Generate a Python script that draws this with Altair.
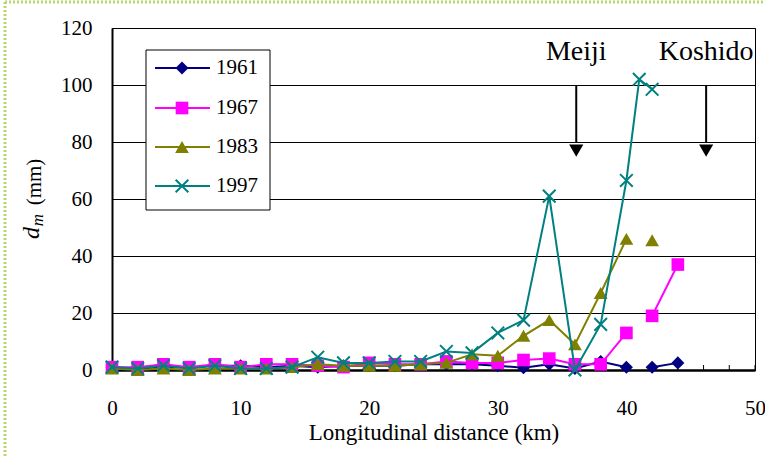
import altair as alt
import pandas as pd

# ---------------- data ----------------
x_km = [0, 2, 4, 6, 8, 10, 12, 14, 16, 18, 20, 22, 24, 26, 28, 30, 32, 34, 36, 38, 40, 41, 42, 44]
d1961 = [1, 0.5, 1, 1, 1.5, 1.5, 1, 1.5, 1, 1.5, 1.5, 1.5, 2, 2, 2, 1.5, 0.8, 2, 0.5, 3, 1, None, 1, 2.5]
d1967 = [1, 1, 2, 1, 2, 1, 2, 2, 1.5, 1, 2.5, 2, 2, 3, 2.5, 2.5, 3.5, 4, 2, 2, 13, None, 19, 37]
d1983 = [0.5, 0, 0.5, 0, 0.5, 0.5, 0.5, 1, 2, 1.5, 1.5, 1.5, 2, 2.5, 5.5, 5, 12, 17.5, 9, 27, 46, None, 45.5, None]
d1997 = [1, 0.5, 1.5, 0.5, 1.5, 0.5, 0.5, 1, 4.5, 2.5, 2.5, 3, 3, 6.5, 6, 13, 17.5, 61, 0, 16, 66.5, 102, 98.5, None]

years = ["1961", "1967", "1983", "1997"]
series = [d1961, d1967, d1983, d1997]
colors = ["#000080", "#FF00FF", "#808000", "#008080"]
X_PATH = "M-1,-1L1,1M-1,1L1,-1"
shapes = ["diamond", "square", "triangle-up", X_PATH]
filled = [True, True, True, False]
sizes = [170, 160, 190, 160]

x_ticks = [0, 10, 20, 30, 40, 50]
y_ticks = [0, 20, 40, 60, 80, 100, 120]
minor_ticks = list(range(0, 51, 2))

site_names = ["Meiji", "Koshido"]
site_km = [36.1, 46.2]

W, H = 643, 342
FONT = "Liberation Serif"

# ---------------- scales / axes ----------------
xs = alt.Scale(domain=[0, 50], nice=False, zero=False)
ys = alt.Scale(domain=[0, 120], nice=False)
x_axis = alt.Axis(values=x_ticks, ticks=False, grid=False, domainColor="black", domainWidth=2.5,
                  labelFont=FONT, labelFontSize=21, labelColor="black", labelPadding=27,
                  labelFlush=False, labelOverlap=False,
                  title="Longitudinal distance (km)", titleFont=FONT, titleFontSize=23,
                  titleFontWeight="normal", titleColor="black", titlePadding=3)
y_axis = alt.Axis(values=y_ticks, ticks=False, grid=True, gridColor="black", gridWidth=1,
                  domainColor="black", domainWidth=2, labelFont=FONT, labelFontSize=21,
                  labelFlush=False, labelOverlap=False,
                  labelColor="black", labelPadding=20, title=None)
X = alt.X("x:Q", scale=xs, axis=x_axis)
Y = alt.Y("y:Q", scale=ys, axis=y_axis)

layers = []

# minor ticks on the x axis (pointing inward)
tick_df = pd.DataFrame({"x": minor_ticks})
layers.append(alt.Chart(tick_df).mark_rule(color="black", strokeWidth=1).encode(
    x=X, y=alt.value(H), y2=alt.value(H - 5)))

# series
for yr, vals, col, shp, fl, sz in zip(years, series, colors, shapes, filled, sizes):
    rows = []
    seg = 0
    for xv, yv in zip(x_km, vals):
        if yv is None:
            seg += 1
            continue
        rows.append({"x": xv, "y": yv, "seg": seg})
    df = pd.DataFrame(rows)
    base = alt.Chart(df)
    layers.append(base.mark_line(color=col, strokeWidth=2).encode(x=X, y=Y, detail="seg:N"))
    if fl:
        pts = base.mark_point(shape=shp, filled=True, color=col, size=sz, opacity=1)
    else:
        pts = base.mark_point(shape=shp, filled=False, color=col, size=sz, opacity=1, strokeWidth=2)
    layers.append(pts.encode(x=X, y=Y))

# arrows and site labels
site_df = pd.DataFrame({"x": site_km, "name": site_names, "y": [100] * 2, "y2": [80] * 2,
                        "yt": [77] * 2, "yl": [111.5] * 2})
layers.append(alt.Chart(site_df).mark_rule(color="black", strokeWidth=2).encode(
    x=X, y=Y, y2="y2:Q"))
layers.append(alt.Chart(site_df).mark_point(shape="triangle-down", filled=True, color="black",
                                            size=200, opacity=1).encode(
    x=X, y=alt.Y("yt:Q", scale=ys, axis=y_axis)))
layers.append(alt.Chart(site_df).mark_text(font=FONT, fontSize=28, color="black").encode(
    x=X, y=alt.Y("yl:Q", scale=ys, axis=y_axis), text="name:N"))

# legend (manual, drawn inside the plot)
one = pd.DataFrame({"k": [0]})
layers.append(alt.Chart(one).mark_rect(fill="white", stroke="black", strokeWidth=1).encode(
    x=alt.value(34), x2=alt.value(158), y=alt.value(22), y2=alt.value(182)))
leg_y = [40, 80, 119, 158]
for yr, col, shp, fl, sz, ly in zip(years, colors, shapes, filled, sizes, leg_y):
    layers.append(alt.Chart(one).mark_rule(color=col, strokeWidth=2).encode(
        x=alt.value(43), x2=alt.value(98), y=alt.value(ly)))
    if fl:
        p = alt.Chart(one).mark_point(shape=shp, filled=True, color=col, size=sz, opacity=1)
    else:
        p = alt.Chart(one).mark_point(shape=shp, filled=False, color=col, size=sz, opacity=1, strokeWidth=2)
    layers.append(p.encode(x=alt.value(70), y=alt.value(ly)))
    layers.append(alt.Chart(one).mark_text(text=yr, font=FONT, fontSize=21, color="black",
                                           align="left", baseline="middle").encode(
        x=alt.value(104), y=alt.value(ly)))

# y-axis title: italic d with subscript m, then (mm)
layers.append(alt.Chart(one).mark_text(text="d", font=FONT, fontSize=24, fontStyle="italic",
                                       color="black", angle=270, align="center",
                                       baseline="alphabetic").encode(
    x=alt.value(-73), y=alt.value(205)))
layers.append(alt.Chart(one).mark_text(text="m", font=FONT, fontSize=17, fontStyle="italic",
                                       color="black", angle=270, align="center",
                                       baseline="alphabetic").encode(
    x=alt.value(-69), y=alt.value(192)))
layers.append(alt.Chart(one).mark_text(text="(mm)", font=FONT, fontSize=21, color="black",
                                       angle=270, align="center",
                                       baseline="alphabetic").encode(
    x=alt.value(-71), y=alt.value(154)))

# dotted page border (top and left)
layers.append(alt.Chart(one).mark_rule(color="#b8d86c", strokeWidth=3, strokeDash=[2, 2]).encode(
    x=alt.value(-107), y=alt.value(-26), y2=alt.value(440)))
layers.append(alt.Chart(one).mark_rule(color="#b8d86c", strokeWidth=3, strokeDash=[2, 2]).encode(
    x=alt.value(-107), x2=alt.value(660), y=alt.value(-26)))

chart = alt.layer(*layers).properties(
    width=W, height=H,
    autosize=alt.AutoSizeParams(type="none"),
    padding={"left": 112, "top": 28, "right": 10, "bottom": 86},
    background="white",
).configure(font=FONT).configure_axis(
    labelFont=FONT, titleFont=FONT
).configure_text(font=FONT).configure_view(stroke="black", strokeWidth=1)

chart.save("out.html", embed_options={"renderer": "svg", "actions": False})
